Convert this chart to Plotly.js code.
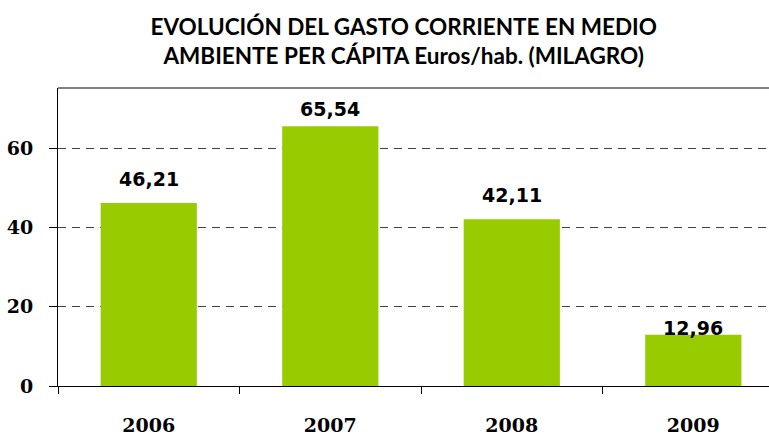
<!DOCTYPE html>
<html>
<head>
<meta charset="utf-8">
<script src="https://cdn.plot.ly/plotly-3.0.1.min.js"></script>
<style>html,body{margin:0;padding:0;background:#fff;}#chart{width:769px;height:435px;}</style>
</head>
<body>
<div id="chart"></div>
<script>
const years = ["2006", "2007", "2008", "2009"];
const values = [46.21, 65.54, 42.11, 12.96];
const labelOffsets = [24, 17, 24, 7];
const titleText = "EVOLUCIÓN DEL GASTO CORRIENTE EN MEDIO<br>AMBIENTE PER CÁPITA Euros/hab. (MILAGRO)";

const fmt = v => v.toFixed(2).replace(".", ",");

const trace = {
  type: "bar",
  x: years,
  y: values,
  width: 0.53,
  marker: {color: "#99CC00", line: {width: 0}},
  hoverinfo: "skip"
};

const annotations = years.map((yr, i) => ({
  x: i, y: values[i], xref: "x", yref: "y",
  text: "<b>" + fmt(values[i]) + "</b>", showarrow: false,
  xanchor: "center", yanchor: "middle", yshift: labelOffsets[i],
  font: {family: "DejaVu Sans", size: 19, color: "#000"}
}));

const layout = {
  width: 769, height: 435,
  margin: {l: 58, r: 0, t: 88, b: 49, pad: 0},
  paper_bgcolor: "#fff", plot_bgcolor: "#fff",
  showlegend: false,
  title: {
    text: "<b>" + titleText.replace("<br>", "</b><br><b>") + "</b>",
    font: {family: "Lato", size: 22.5, color: "#000"},
    x: 0.525, xanchor: "center", xref: "container",
    y: 0.92, yanchor: "top", yref: "container"
  },
  xaxis: {
    type: "category",
    range: [-0.5, 3.417],
    tickson: "boundaries",
    ticks: "outside", ticklen: 7, tickcolor: "#000", tickwidth: 1,
    showline: true, linecolor: "#000", linewidth: 1,
    showgrid: false, zeroline: false,
    ticklabelstandoff: 22,
    tickfont: {family: "DejaVu Serif", size: 19, color: "#000", weight: "bold"}
  },
  yaxis: {
    range: [0, 75.2],
    tickvals: [0, 20, 40, 60],
    ticks: "outside", ticklen: 8, tickcolor: "#000", tickwidth: 1,
    showline: true, linecolor: "#000", linewidth: 1,
    showgrid: true, gridcolor: "#404040", gridwidth: 1, griddash: "8px,6px",
    zeroline: false,
    ticklabelstandoff: 12,
    tickfont: {family: "DejaVu Serif", size: 19, color: "#000", weight: "bold"}
  },
  shapes: [{
    type: "line", xref: "paper", yref: "paper",
    x0: 0, x1: 1, y0: 1, y1: 1,
    line: {color: "#808080", width: 2}
  }],
  annotations: annotations
};

Plotly.newPlot("chart", [trace], layout, {displayModeBar: false});
</script>
</body>
</html>
